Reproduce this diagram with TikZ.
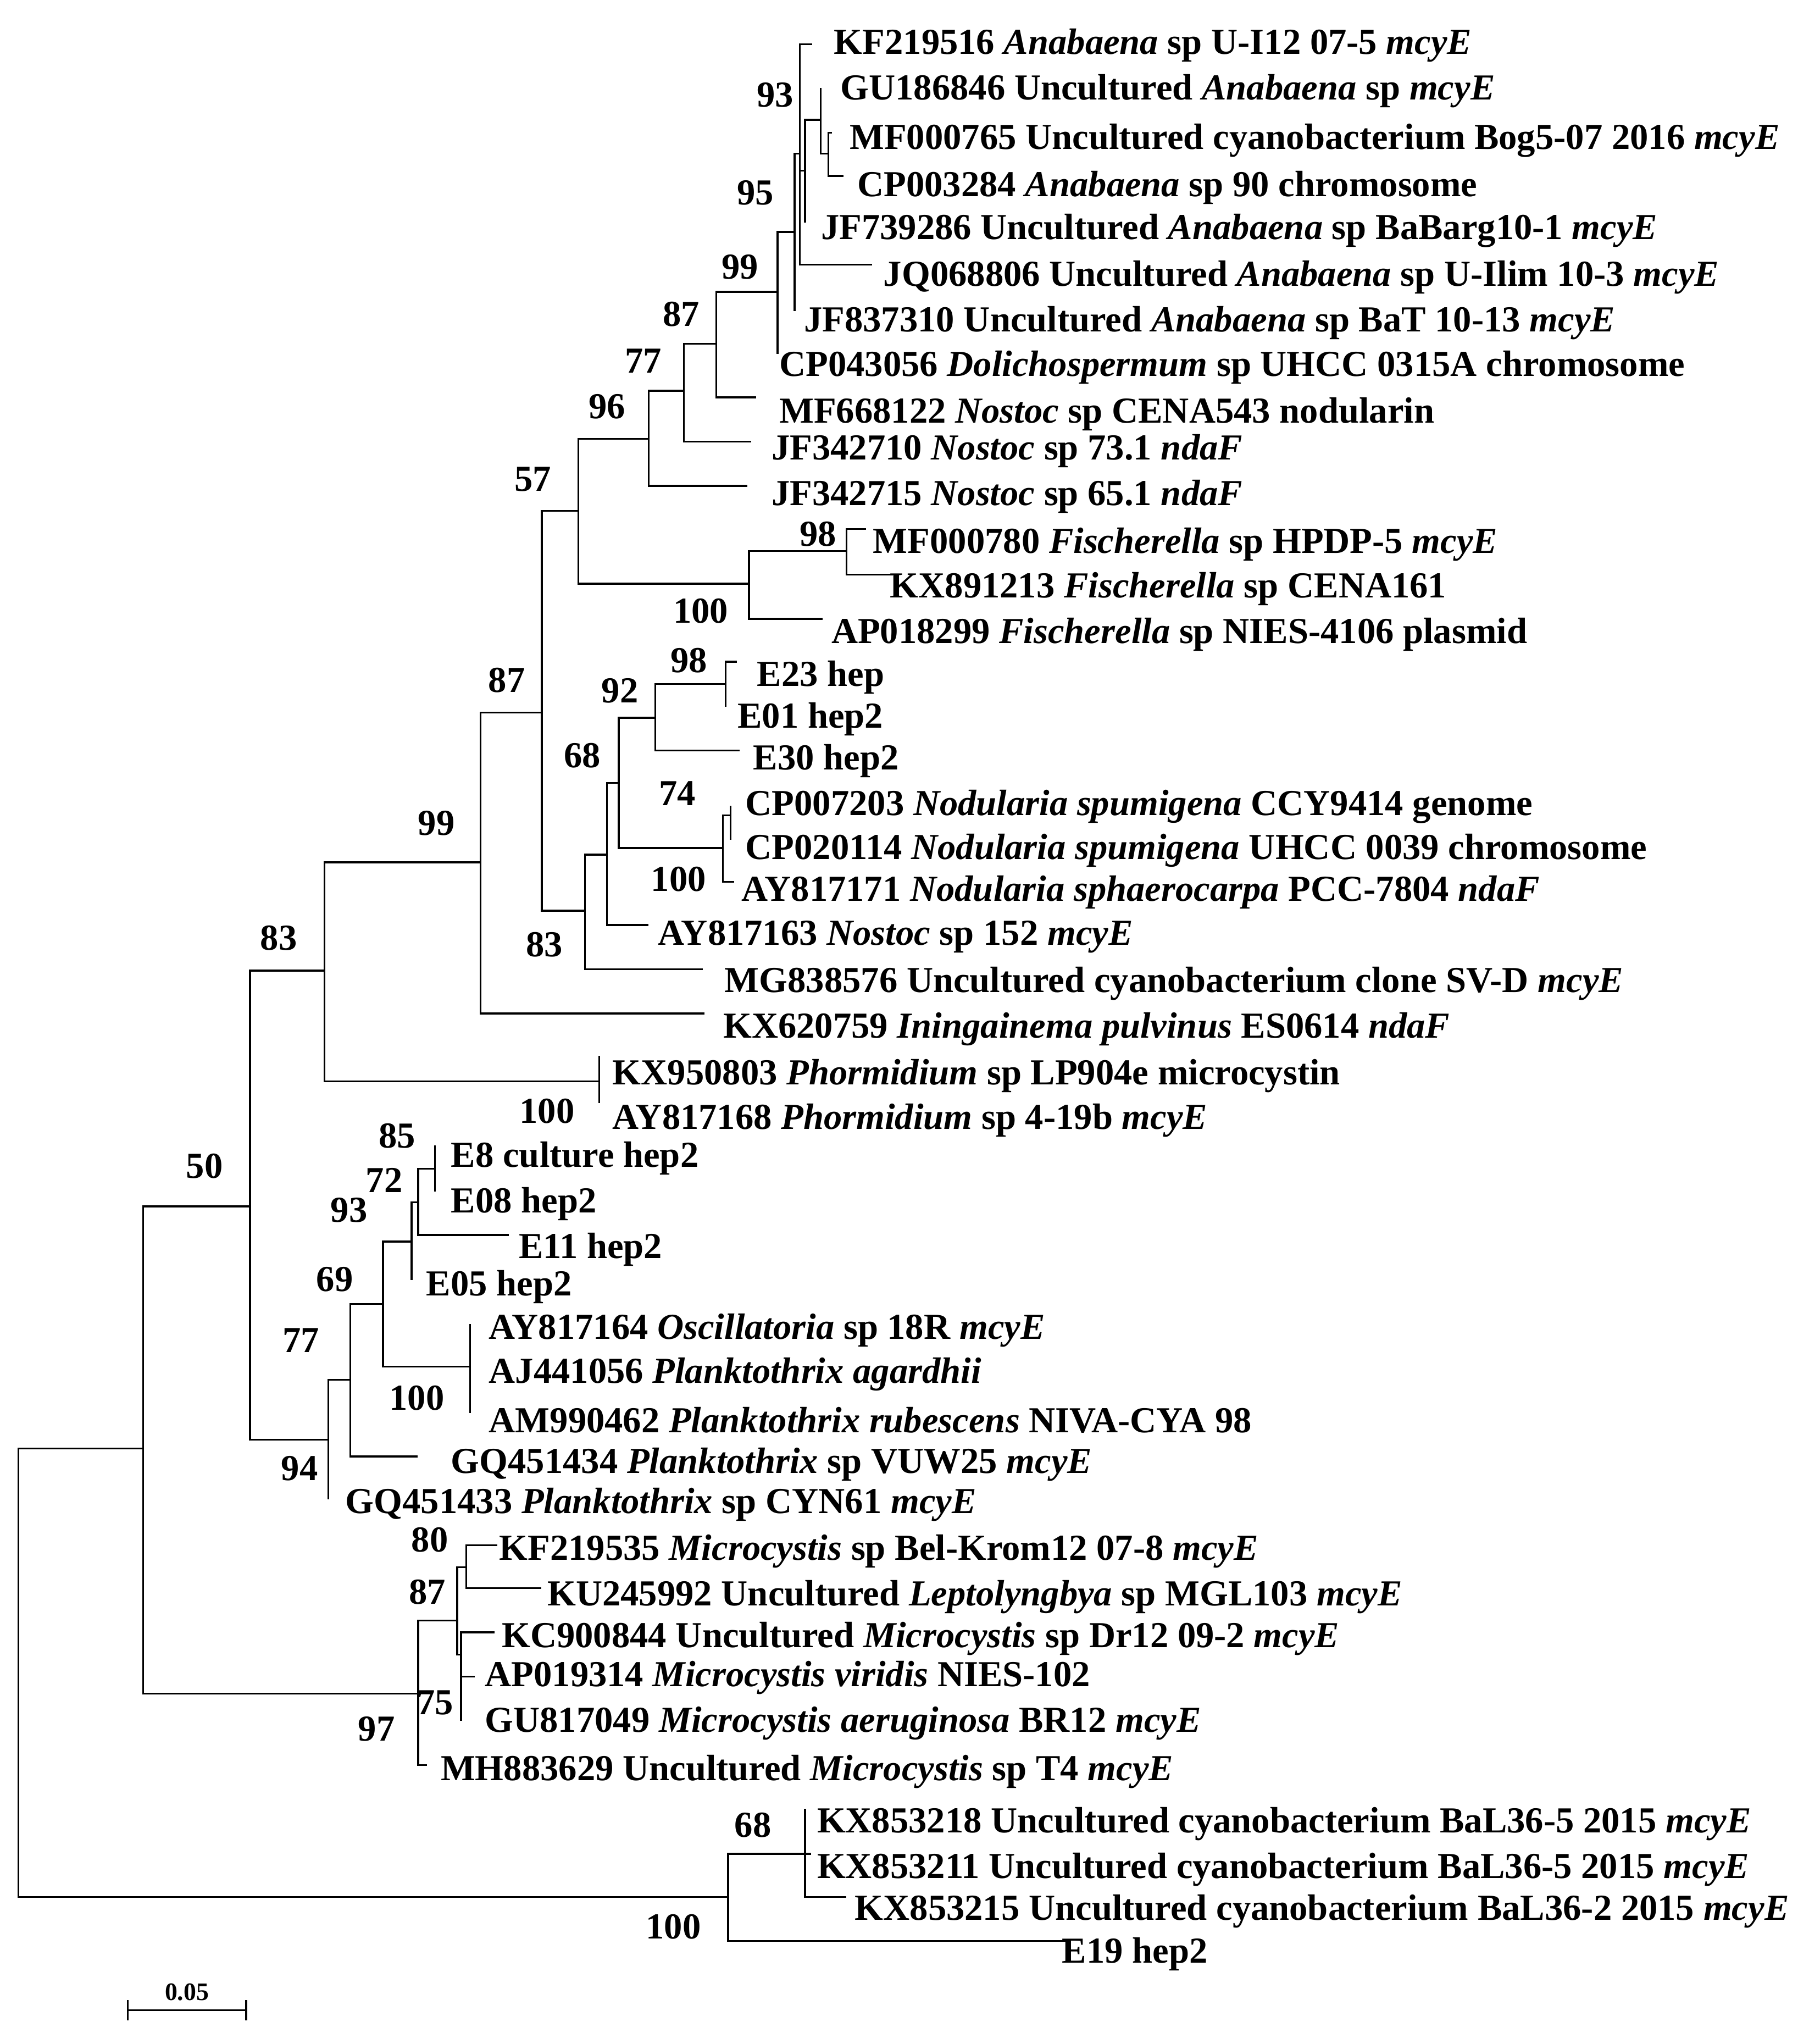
\documentclass[tikz,border=0pt]{standalone}
\usepackage{fontspec}
\setmainfont{Liberation Serif}
\usetikzlibrary{calc}
\newcommand{\tx}[1]{\textit{#1}}

\tikzset{
  br/.style={line width=0.8pt, line cap=rect},
  lf/.style={anchor=west, inner sep=0pt, font=\fontsize{16}{16}\selectfont\bfseries},
  bs/.style={inner sep=0pt, font=\fontsize{16}{16}\selectfont\bfseries},
}
% leaf: name, tip x, tip y, text x, text y, text
\newcommand{\leaf}[6]{\coordinate (#1) at (#2,#3); \node[lf] (#1-t) at (#4,#5) {#6};}

\begin{document}
\begin{tikzpicture}[x=0.02cm, y=-0.02cm]
  \useasboundingbox (0,0) rectangle (1380,1569);

  % internal nodes
  \coordinate (root) at (14,1284);
  \coordinate (n50) at (110,1112);
  \coordinate (n83) at (192,926);
  \coordinate (n99) at (249,745);
  \coordinate (n87) at (369,662);
  \coordinate (n57) at (416,547);
  \coordinate (n96) at (444,392);
  \coordinate (n77) at (498,337);
  \coordinate (n87b) at (525,300);
  \coordinate (n99b) at (550,264);
  \coordinate (n95) at (597,224);
  \coordinate (nE) at (610,178);
  \coordinate (n93) at (614,118);
  \coordinate (nB) at (618,131);
  \coordinate (nC) at (630,92);
  \coordinate (nD) at (636,118);
  \coordinate (n100f) at (575,448);
  \coordinate (n98f) at (650,423);
  \coordinate (n83b) at (449,699);
  \coordinate (n68) at (466,656);
  \coordinate (nO) at (475,601);
  \coordinate (n92) at (503,551);
  \coordinate (n98e) at (557,525);
  \coordinate (n100n) at (555,651);
  \coordinate (n74) at (561,626);
  \coordinate (n100p) at (460,830);
  \coordinate (n94) at (252,1105);
  \coordinate (n77p) at (269,1059);
  \coordinate (n69) at (294,1001);
  \coordinate (n93p) at (316,953);
  \coordinate (n72) at (321,923);
  \coordinate (n85) at (334,897);
  \coordinate (n100o) at (361,1049);
  \coordinate (n97) at (321,1300);
  \coordinate (n87m) at (351,1244);
  \coordinate (n80) at (358,1203);
  \coordinate (n75) at (354,1270);
  \coordinate (n100b) at (559,1456);
  \coordinate (n68b) at (618,1423);

  % leaves
  \leaf{KF219516}{623}{34}{640}{35}{KF219516 \tx{Anabaena} sp U-I12 07-5 \tx{mcyE}}
  \leaf{GU186846}{630}{68}{645}{70}{GU186846 Uncultured \tx{Anabaena} sp \tx{mcyE}}
  \leaf{MF000765}{638}{102}{652}{108}{MF000765 Uncultured cyanobacterium Bog5-07 2016 \tx{mcyE}}
  \leaf{CP003284}{647}{135}{658}{144}{CP003284 \tx{Anabaena} sp 90 chromosome}
  \leaf{JF739286}{618}{170}{630}{177}{JF739286 Uncultured \tx{Anabaena} sp BaBarg10-1 \tx{mcyE}}
  \leaf{JQ068806}{669}{203}{678}{213}{JQ068806 Uncultured \tx{Anabaena} sp U-Ilim 10-3 \tx{mcyE}}
  \leaf{JF837310}{610}{238}{617}{248}{JF837310 Uncultured \tx{Anabaena} sp BaT 10-13 \tx{mcyE}}
  \leaf{CP043056}{597}{271}{598}{282}{CP043056 \tx{Dolichospermum} sp UHCC 0315A chromosome}
  \leaf{MF668122}{580}{305}{598}{318}{MF668122 \tx{Nostoc} sp CENA543 nodularin}
  \leaf{JF342710}{576}{339}{592}{346}{JF342710 \tx{Nostoc} sp 73.1 \tx{ndaF}}
  \leaf{JF342715}{573}{373}{592}{381}{JF342715 \tx{Nostoc} sp 65.1 \tx{ndaF}}
  \leaf{MF000780}{664}{406}{670}{418}{MF000780 \tx{Fischerella} sp HPDP-5 \tx{mcyE}}
  \leaf{KX891213}{685}{441}{683}{452}{KX891213 \tx{Fischerella} sp CENA161}
  \leaf{AP018299}{631}{475}{638}{487}{AP018299 \tx{Fischerella} sp NIES-4106 plasmid}
  \leaf{E23}{565}{508}{581}{520}{E23 hep}
  \leaf{E01}{557}{542}{566}{552}{E01 hep2}
  \leaf{E30}{567}{576}{578}{584}{E30 hep2}
  \leaf{CP007203}{561}{619}{572}{619}{CP007203 \tx{Nodularia spumigena} CCY9414 genome}
  \leaf{CP020114}{561}{644}{572}{653}{CP020114 \tx{Nodularia spumigena} UHCC 0039 chromosome}
  \leaf{AY817171}{563}{677}{569}{685}{AY817171 \tx{Nodularia sphaerocarpa} PCC-7804 \tx{ndaF}}
  \leaf{AY817163}{497}{710}{505}{719}{AY817163 \tx{Nostoc} sp 152 \tx{mcyE}}
  \leaf{MG838576}{539}{744}{556}{755}{MG838576 Uncultured cyanobacterium clone SV-D \tx{mcyE}}
  \leaf{KX620759}{540}{778}{555}{790}{KX620759 \tx{Iningainema pulvinus} ES0614 \tx{ndaF}}
  \leaf{KX950803}{460}{811}{470}{826}{KX950803 \tx{Phormidium} sp LP904e microcystin}
  \leaf{AY817168}{460}{846}{470}{860}{AY817168 \tx{Phormidium} sp 4-19b \tx{mcyE}}
  \leaf{E8}{334}{880}{346}{889}{E8 culture hep2}
  \leaf{E08}{334}{914}{346}{924}{E08 hep2}
  \leaf{E11}{390}{948}{398}{959}{E11 hep2}
  \leaf{E05}{316}{982}{327}{988}{E05 hep2}
  \leaf{AY817164}{361}{1017}{375}{1021}{AY817164 \tx{Oscillatoria} sp 18R \tx{mcyE}}
  \leaf{AJ441056}{361}{1049}{375}{1055}{AJ441056 \tx{Planktothrix agardhii}}
  \leaf{AM990462}{361}{1084}{375}{1090}{AM990462 \tx{Planktothrix rubescens} NIVA-CYA 98}
  \leaf{GQ451434}{320}{1118}{346}{1124}{GQ451434 \tx{Planktothrix} sp VUW25 \tx{mcyE}}
  \leaf{GQ451433}{252}{1150}{265}{1155}{GQ451433 \tx{Planktothrix} sp CYN61 \tx{mcyE}}
  \leaf{KF219535}{381}{1186}{383}{1191}{KF219535 \tx{Microcystis} sp Bel-Krom12 07-8 \tx{mcyE}}
  \leaf{KU245992}{415}{1219}{420}{1226}{KU245992 Uncultured \tx{Leptolyngbya} sp MGL103 \tx{mcyE}}
  \leaf{KC900844}{379}{1253}{385}{1258}{KC900844 Uncultured \tx{Microcystis} sp Dr12 09-2 \tx{mcyE}}
  \leaf{AP019314}{364}{1287}{372}{1288}{AP019314 \tx{Microcystis viridis} NIES-102}
  \leaf{GU817049}{354}{1320}{372}{1323}{GU817049 \tx{Microcystis aeruginosa} BR12 \tx{mcyE}}
  \leaf{MH883629}{327}{1355}{338}{1360}{MH883629 Uncultured \tx{Microcystis} sp T4 \tx{mcyE}}
  \leaf{KX853218}{618}{1389}{627}{1400}{KX853218 Uncultured cyanobacterium BaL36-5 2015 \tx{mcyE}}
  \leaf{KX853211}{622}{1423}{627}{1435}{KX853211 Uncultured cyanobacterium BaL36-5 2015 \tx{mcyE}}
  \leaf{KX853215}{649}{1456}{656}{1467}{KX853215 Uncultured cyanobacterium BaL36-2 2015 \tx{mcyE}}
  \leaf{E19}{821}{1490}{815}{1500}{E19 hep2}

  % branches
  \foreach \p/\c in {root/n50, root/n100b, n50/n83, n50/n97, n83/n99, n83/n94,
      n99/n87, n99/n100p, n87/n57, n87/KX620759, n57/n96, n57/n83b,
      n96/n77, n96/n100f, n77/n87b, n77/JF342715, n87b/n99b, n87b/JF342710,
      n99b/n95, n99b/MF668122, n95/nE, n95/CP043056, nE/n93, nE/JF837310,
      n93/KF219516, n93/nB, n93/JQ068806, nB/nC, nB/JF739286,
      nC/GU186846, nC/nD, nD/MF000765, nD/CP003284,
      n100f/n98f, n100f/AP018299, n98f/MF000780, n98f/KX891213,
      n83b/n68, n83b/MG838576, n68/nO, n68/AY817163, nO/n92, nO/n100n,
      n92/n98e, n92/E30, n98e/E23, n98e/E01, n100n/n74, n100n/AY817171,
      n74/CP007203, n74/CP020114, n100p/KX950803, n100p/AY817168,
      n94/n77p, n94/GQ451433, n77p/n69, n77p/GQ451434, n69/n93p, n69/n100o,
      n93p/n72, n93p/E05, n72/n85, n72/E11, n85/E8, n85/E08,
      n100o/AY817164, n100o/AJ441056, n100o/AM990462,
      n97/n87m, n97/MH883629, n87m/n80, n87m/n75, n80/KF219535, n80/KU245992,
      n75/KC900844, n75/AP019314, n75/GU817049,
      n100b/n68b, n100b/E19, n68b/KX853218, n68b/KX853211, n68b/KX853215}
    \draw[br] (\p) |- (\c);

  % bootstrap values
  \foreach \v/\x/\y [count=\i] in {93/595/73, 95/580/148, 99/568/205, 87/523/241,
      77/494/277, 96/466/312, 57/409/368, 98/628/410, 100/538/469, 87/389/522,
      98/529/507, 92/476/530, 68/447/580, 74/520/609, 100/521/675, 83/418/725,
      99/335/632, 83/214/720, 100/420/853, 50/157/895, 85/305/872, 72/295/906,
      93/268/929, 69/257/982, 77/231/1029, 100/320/1073, 94/230/1127,
      80/330/1182, 87/328/1222, 75/334/1307, 97/289/1327, 68/578/1401, 100/517/1479}
    \node[bs] (bs\i) at (\x,\y) {\v};

  % scale bar
  \coordinate (sbl) at (98,1543);
  \coordinate (sbr) at (189,1543);
  \draw[br] (sbl) -- (sbr);
  \draw[br] ([yshift=-4]sbl) -- ([yshift=4]sbl);
  \draw[br] ([yshift=-4]sbr) -- ([yshift=4]sbr);
  \node[bs, font=\fontsize{11}{11}\selectfont\bfseries, above=4pt] (sbt) at ($(sbl)!0.5!(sbr)$) {0.05};
\end{tikzpicture}
\end{document}
